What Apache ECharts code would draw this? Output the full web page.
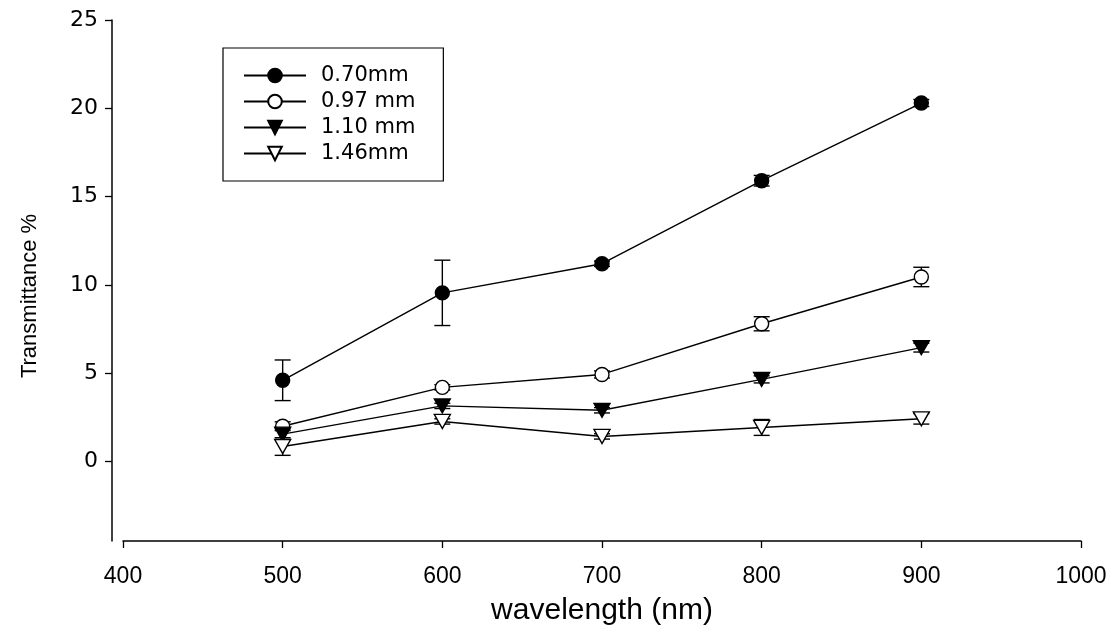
<!DOCTYPE html>
<html><head><meta charset="utf-8">
<script src="https://cdn.jsdelivr.net/npm/echarts@6/dist/echarts.min.js"></script>
<style>html,body{margin:0;padding:0;background:#fff}#c{width:1116px;height:631px}</style>
</head><body><div id="c"></div>
<script>
const wavelengths = [500, 600, 700, 800, 900];
const yTicks = [0, 5, 10, 15, 20, 25];
const names = ['0.70mm', '0.97 mm', '1.10 mm', '1.46mm'];
const t070 = [4.6, 9.55, 11.2, 15.9, 20.3];
const e070 = [1.15, 1.85, 0.15, 0.3, 0.2];
const t097 = [2.0, 4.2, 4.93, 7.8, 10.45];
const e097 = [0.25, 0.15, 0.2, 0.4, 0.55];
const t110 = [1.55, 3.15, 2.9, 4.65, 6.45];
const e110 = [0.3, 0.15, 0.15, 0.2, 0.25];
const t146 = [0.85, 2.27, 1.42, 1.93, 2.42];
const e146 = [0.5, 0.15, 0.15, 0.45, 0.3];

const values = [t070, t097, t110, t146];
const errors = [e070, e097, e110, e146];
const symbols = ['circle', 'circle', 'triangle', 'triangle'];
const fills = ['#000', '#fff', '#000', '#fff'];
const sizes = [14, 14, [16, 14], [16, 14]];
const rotates = [0, 0, 180, 180];

const series = [];
values.forEach((vals, i) => {
  series.push({
    type: 'custom', name: names[i] + '_err', silent: true, z: 1,
    data: wavelengths.map((w, j) => [w, vals[j] - errors[i][j], vals[j] + errors[i][j]]),
    renderItem: function (params, api) {
      const lo = api.coord([api.value(0), api.value(1)]);
      const hi = api.coord([api.value(0), api.value(2)]);
      const hw = 8;
      const st = { stroke: '#000', lineWidth: 1.4 };
      return { type: 'group', children: [
        { type: 'line', shape: { x1: lo[0], y1: lo[1], x2: hi[0], y2: hi[1] }, style: st },
        { type: 'line', shape: { x1: lo[0] - hw, y1: lo[1], x2: lo[0] + hw, y2: lo[1] }, style: st },
        { type: 'line', shape: { x1: hi[0] - hw, y1: hi[1], x2: hi[0] + hw, y2: hi[1] }, style: st }
      ]};
    }
  });
});
values.forEach((vals, i) => {
  series.push({
    type: 'line', name: names[i], z: 3,
    data: wavelengths.map((w, j) => [w, vals[j]]),
    symbol: symbols[i], symbolSize: sizes[i], symbolRotate: rotates[i],
    showAllSymbol: true,
    lineStyle: { color: '#000', width: 1.4 },
    itemStyle: { color: fills[i], borderColor: '#000', borderWidth: 1.4 },
    emphasis: { disabled: true },
    animation: false
  });
});

const chart = echarts.init(document.getElementById('c'));
chart.setOption({
  animation: false,
  backgroundColor: '#fff',
  grid: { left: 123, right: 35, top: 20, bottom: 90 },
  legend: {
    data: names, left: 223, top: 48, orient: 'vertical',
    padding: [17, 28, 17, 20], itemWidth: 62, itemHeight: 17, itemGap: 5,
    borderColor: '#000', borderWidth: 1.2,
    textStyle: { fontFamily: 'DejaVu Sans, sans-serif', fontSize: 21, color: '#000', lineHeight: 20, padding: [0, 0, 0, 10] },
    selectedMode: false
  },
  graphic: [{
    type: 'text', x: 30, y: 296, rotation: Math.PI / 2,
    style: { text: 'Transmittance %', fontFamily: 'Liberation Sans, Arial, sans-serif', fontSize: 22, fill: '#000', align: 'center', verticalAlign: 'middle' }
  }],
  xAxis: {
    type: 'value', min: 400, max: 1000, interval: 100,
    name: 'wavelength (nm)', nameLocation: 'middle', nameGap: 55,
    nameTextStyle: { fontFamily: 'Liberation Sans, Arial, sans-serif', fontSize: 30, color: '#000' },
    axisLine: { onZero: false, lineStyle: { color: '#000', width: 1.5 } },
    axisTick: { length: 7, lineStyle: { color: '#000', width: 1.3 } },
    axisLabel: { fontFamily: 'Liberation Sans, Arial, sans-serif', fontSize: 23, color: '#000', margin: 24, formatter: v => String(v) },
    splitLine: { show: false }
  },
  yAxis: {
    type: 'value', min: -4.5, max: 25, offset: 11,
    axisLine: { show: true, lineStyle: { color: '#000', width: 1.5 } },
    axisTick: { show: true, length: 7, customValues: yTicks, lineStyle: { color: '#000', width: 1.3 } },
    axisLabel: { customValues: yTicks, fontFamily: 'DejaVu Sans, sans-serif', fontSize: 22, color: '#000', margin: 14, formatter: v => String(v) },
    splitLine: { show: false }
  },
  series: series
});
</script></body></html>
